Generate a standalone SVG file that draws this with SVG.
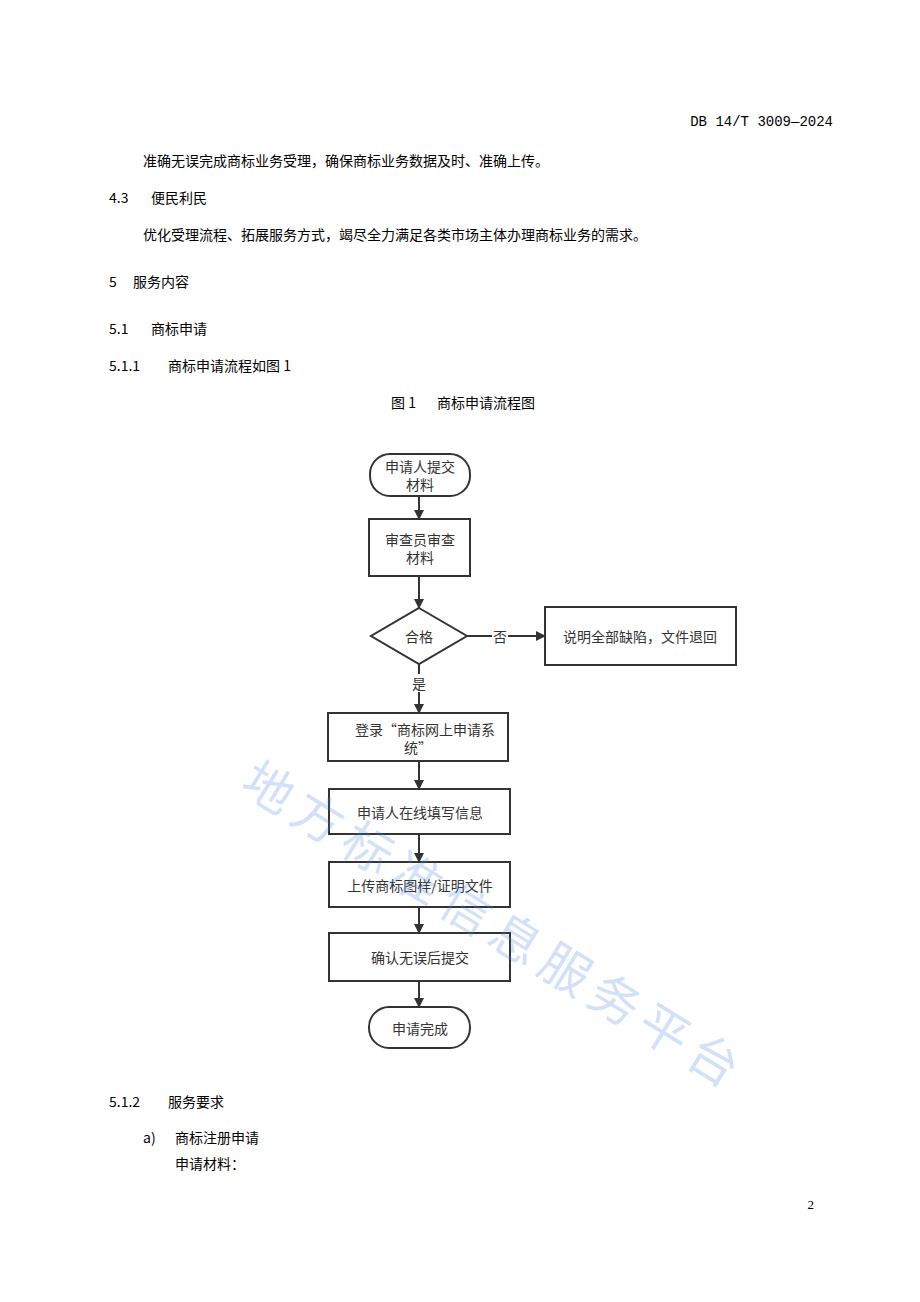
<svg xmlns="http://www.w3.org/2000/svg" width="920" height="1302" viewBox="0 0 920 1302" xml:space="preserve">
<style>
.t{font-family:"Noto Sans CJK SC","Noto Sans",sans-serif;font-size:14px;fill:#000}
.n{font-family:"Noto Sans CJK SC",sans-serif;font-size:14px;fill:#333;text-anchor:middle;dominant-baseline:central}
.b{fill:#fff;stroke:#333;stroke-width:2}
.c{stroke:#333;stroke-width:2;fill:none;marker-end:url(#a)}
</style>
<defs><marker id="a" viewBox="0 0 10 10" refX="9" refY="5" markerWidth="5" markerHeight="5" orient="auto"><path d="M0,0L10,5L0,10z" fill="#333"/></marker></defs>
<rect width="920" height="1302" fill="#fff"/>
<text x="833" y="126" text-anchor="end" style="font-family:'Liberation Mono',monospace;font-size:14px">DB 14/T 3009—2024</text>
<text class="t" x="143" y="166">准确无误完成商标业务受理，确保商标业务数据及时、准确上传。</text>
<text class="t" x="109" y="203">4.3</text><text class="t" x="151" y="203">便民利民</text>
<text class="t" x="143" y="240">优化受理流程、拓展服务方式，竭尽全力满足各类市场主体办理商标业务的需求。</text>
<text class="t" x="109" y="287">5</text><text class="t" x="133" y="287">服务内容</text>
<text class="t" x="109" y="334">5.1</text><text class="t" x="151" y="334">商标申请</text>
<text class="t" x="109" y="371">5.1.1</text><text class="t" x="168" y="371">商标申请流程如图 1</text>
<text class="t" x="391" y="408">图 1</text><text class="t" x="437" y="408">商标申请流程图</text>
<text class="t" x="109" y="1107">5.1.2</text><text class="t" x="168" y="1107">服务要求</text>
<text class="t" x="143" y="1143">a)</text><text class="t" x="175" y="1143">商标注册申请</text>
<text class="t" x="175" y="1169">申请材料：</text>
<text x="814" y="1209" font-family="Liberation Serif" font-size="13" text-anchor="end">2</text>
<g id="connectors">
<path class="c" d="M419,496V519"/>
<path class="c" d="M419,576V608"/>
<path class="c" d="M467,636H545"/>
<path class="c" d="M419,664V713"/>
<path class="c" d="M419,761V789"/>
<path class="c" d="M419,834V862"/>
<path class="c" d="M419,907V933"/>
<path class="c" d="M419,981V1007"/>
<rect x="492" y="627" width="16" height="18" fill="#fff"/><text class="n" x="500" y="636">否</text>
<rect x="411" y="674" width="16" height="18" fill="#fff"/><text class="n" x="419" y="683">是</text>
</g>
<g id="start"><rect class="b" x="370" y="454" width="100" height="42" rx="20"/><text class="n" x="420" y="466">申请人提交</text><text class="n" x="420" y="484">材料</text></g>
<g id="review"><rect class="b" x="369" y="519" width="101" height="57"/><text class="n" x="420" y="539">审查员审查</text><text class="n" x="420" y="557">材料</text></g>
<g id="check"><path class="b" d="M419,608L467,636L419,664L371,636z"/><text class="n" x="419" y="636">合格</text></g>
<g id="reject"><rect class="b" x="545" y="607" width="191" height="58"/><text class="n" x="640" y="636">说明全部缺陷，文件退回</text></g>
<g id="login"><rect class="b" x="328" y="713" width="180" height="48"/><text class="n" x="425" y="729">登录“商标网上申请系</text><text class="n" x="418" y="747">统”</text></g>
<g id="fill"><rect class="b" x="329" y="789" width="181" height="45"/><text class="n" x="420" y="812">申请人在线填写信息</text></g>
<g id="upload"><rect class="b" x="329" y="862" width="181" height="45"/><text class="n" x="420" y="885">上传商标图样/证明文件</text></g>
<g id="confirm"><rect class="b" x="329" y="933" width="181" height="48"/><text class="n" x="420" y="957">确认无误后提交</text></g>
<g id="end"><rect class="b" x="369" y="1007" width="101" height="41" rx="20"/><text class="n" x="420" y="1028">申请完成</text></g>
<text x="238" y="790" transform="rotate(31.5 238 790)" font-family="Noto Sans CJK SC,sans-serif" font-size="50" fill="#4a86e8" fill-opacity="0.25" letter-spacing="8">地方标准信息服务平台</text>
</svg>
